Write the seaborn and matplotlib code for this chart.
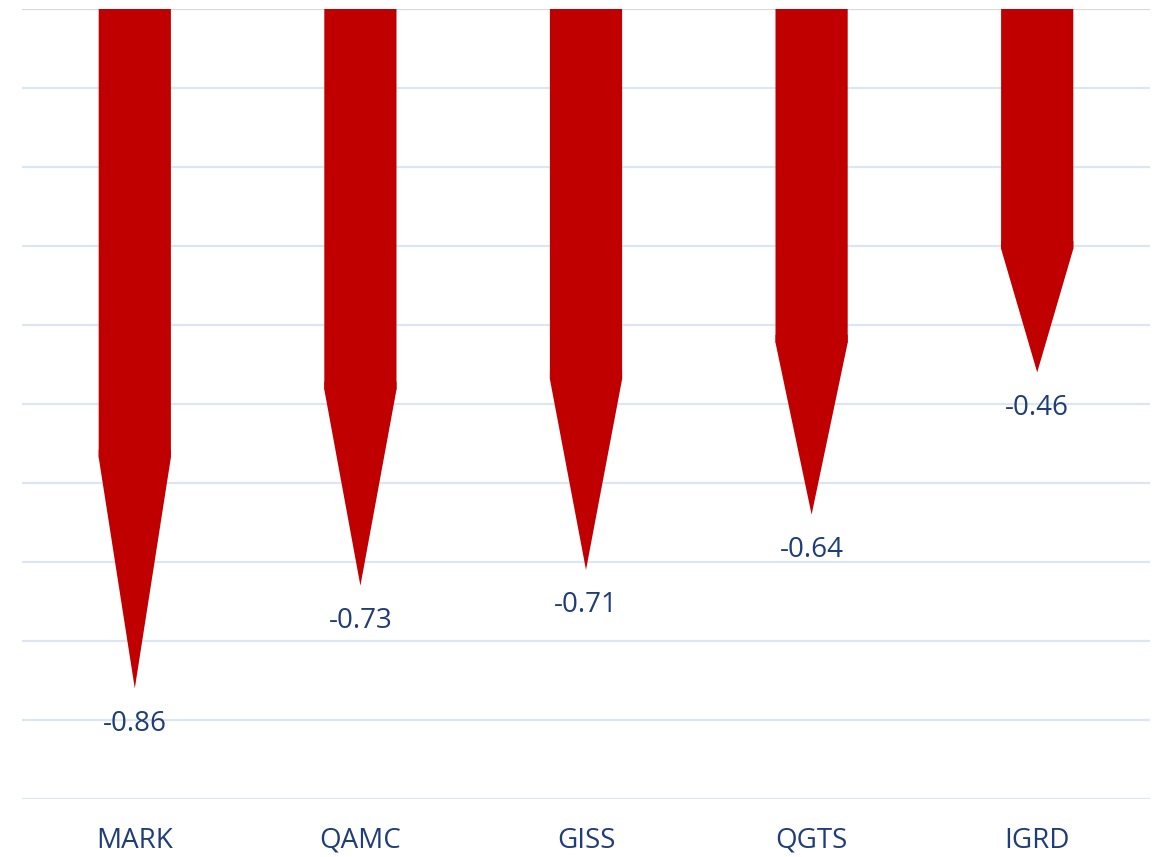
import matplotlib
matplotlib.use('Agg')
import matplotlib.pyplot as plt
import seaborn as sns
import pandas as pd

tickers = ['MARK', 'QAMC', 'GISS', 'QGTS', 'IGRD']
values = [-0.86, -0.73, -0.71, -0.64, -0.46]
labels = ['-0.86', '-0.73', '-0.71', '-0.64', '-0.46']

red = '#C00000'
navy = '#1F3D79'
shaft_frac = 0.66
width = 0.32

sns.set_theme(style='white')
plt.rcParams['font.family'] = ['Open Sans', 'DejaVu Sans']

df = pd.DataFrame({'ticker': tickers, 'shaft': [v * shaft_frac for v in values]})

fig = plt.figure(figsize=(11.6, 8.57), dpi=100)
ax = fig.add_axes([22 / 1160, 1 - 799 / 857, 1128 / 1160, 790 / 857])

# grid
for g in [-0.1 * i for i in range(1, 11)]:
    ax.axhline(g, color='#DCE6F2', lw=1.6, zorder=0)
ax.axhline(0, color='#D9D9D9', lw=1.6, zorder=0)

# arrow shafts
sns.barplot(data=df, x='ticker', y='shaft', color=red, width=width,
            saturation=1, ax=ax, zorder=2, linewidth=0)
for p in ax.patches:
    p.set_snap(False)

# arrow heads (overlap a bit into the shaft to hide the seam) + labels
for i, v in enumerate(values):
    s = v * shaft_frac
    xs = [i - width / 2, i - width / 2, i, i + width / 2, i + width / 2]
    ys = [s + 0.01, s, v, s, s + 0.01]
    ax.fill(xs, ys, color=red, lw=0, zorder=2, snap=False)
    ax.text(i, v - 0.027, labels[i], ha='center', va='top', color=navy, fontsize=20)

ax.set_ylim(-1.0, 0.0)
ax.set_xlim(-0.5, 4.5)
ax.set_xlabel('')
ax.set_ylabel('')
ax.set_yticks([])
ax.tick_params(axis='x', length=0, pad=20, labelsize=20, labelcolor=navy)
sns.despine(ax=ax, left=True, bottom=True, top=True, right=True)

fig.savefig('out.png', dpi=100)
